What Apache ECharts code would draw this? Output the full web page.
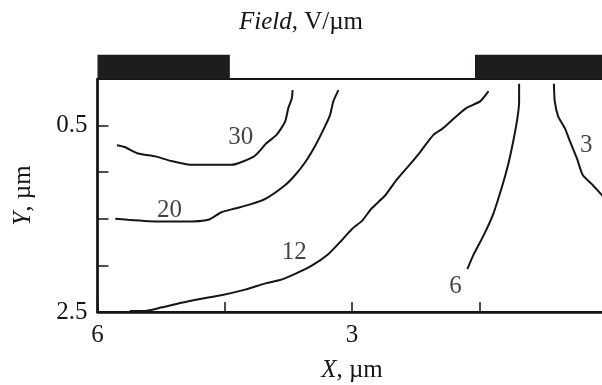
<!DOCTYPE html>
<html>
<head>
<meta charset="utf-8">
<script src="https://cdn.jsdelivr.net/npm/echarts@6/dist/echarts.min.js"></script>
<style>
  html, body { margin: 0; padding: 0; background: #fff; }
  #chart { width: 602px; height: 385px; }
</style>
</head>
<body>
<div id="chart"></div>
<script>
// contour lines, [X, Y] in um (X runs 6 -> 0 left to right, Y grows downward)
const contour30 = [[5.77, 0.71], [5.68, 0.73], [5.52, 0.80], [5.32, 0.83], [5.13, 0.88], [4.91, 0.92],
  [4.42, 0.92], [4.30, 0.89], [4.14, 0.82], [4.01, 0.69], [3.89, 0.60], [3.79, 0.46], [3.75, 0.31],
  [3.71, 0.21], [3.70, 0.12]]
const contour20 = [[5.79, 1.50], [5.64, 1.51], [5.24, 1.53], [4.97, 1.53], [4.69, 1.51], [4.54, 1.43],
  [4.38, 1.39], [4.18, 1.34], [4.01, 1.28], [3.79, 1.14], [3.67, 1.03], [3.55, 0.89], [3.43, 0.71],
  [3.33, 0.53], [3.26, 0.39], [3.22, 0.24], [3.16, 0.12]]
const contour12 = [[5.62, 2.49], [5.44, 2.49], [5.24, 2.45], [5.01, 2.40], [4.79, 2.36], [4.54, 2.32],
  [4.26, 2.26], [4.01, 2.19], [3.86, 2.16], [3.67, 2.09], [3.47, 2.00], [3.28, 1.88], [3.12, 1.73],
  [3.00, 1.61], [2.88, 1.52], [2.77, 1.39], [2.61, 1.25], [2.49, 1.10], [2.33, 0.93], [2.21, 0.80],
  [2.04, 0.60], [1.93, 0.53], [1.77, 0.40], [1.65, 0.31], [1.49, 0.24], [1.39, 0.13]]
const contour6 = [[1.03, 0.05], [1.03, 0.24], [1.05, 0.42], [1.10, 0.67], [1.16, 0.92], [1.24, 1.18],
  [1.34, 1.46], [1.45, 1.68], [1.57, 1.89], [1.64, 2.04]]
const contour3 = [[0.62, 0.05], [0.61, 0.24], [0.57, 0.40], [0.49, 0.53], [0.43, 0.67], [0.35, 0.85],
  [0.28, 1.03], [0.16, 1.14], [0.05, 1.25], [0.0, 1.29]]

// level labels: [X, Y, text]
const levelLabels = [[4.31, 0.63, '30'], [5.15, 1.41, '20'], [3.68, 1.86, '12'], [1.78, 2.23, '6'], [0.24, 0.71, '3']]

// electrodes on top of the film: [Xfrom, Xto]
const electrodes = [[6, 4.44], [1.55, 0]]
const electrodeTop = -0.26

const xLabels = [6, 3]
const yLabels = [0.5, 2.5]

const FONT = 'Times New Roman, Liberation Serif, serif'
const INK = '#151515'
const chart = echarts.init(document.getElementById('chart'))

function contourSeries(data) {
  return {
    type: 'line',
    data: data,
    smooth: 0.2,
    showSymbol: false,
    silent: true,
    lineStyle: { color: INK, width: 2 }
  }
}

const nameStyle = {
  fontFamily: FONT,
  fontSize: 25,
  color: INK,
  rich: { i: { fontFamily: FONT, fontSize: 25, fontStyle: 'italic', color: INK } }
}

chart.setOption({
  animation: false,
  title: {
    text: '{i|Field}, V/µm',
    left: 'center',
    top: 5,
    textStyle: Object.assign({ fontWeight: 'normal' }, nameStyle)
  },
  grid: {
    left: 97.5, right: -4.5, top: 79, bottom: 73,
    outerBoundsMode: 'none',
    show: true, borderColor: INK, borderWidth: 2, backgroundColor: 'transparent'
  },
  xAxis: {
    type: 'value',
    min: 0,
    max: 6,
    interval: 1.5,
    inverse: true,
    name: '{i|X}, µm',
    nameLocation: 'middle',
    nameGap: 46,
    nameTextStyle: nameStyle,
    axisLine: { onZero: false, lineStyle: { color: INK, width: 2.5 } },
    axisTick: { inside: true, length: 10, lineStyle: { color: INK, width: 1.5 } },
    axisLabel: {
      margin: 11,
      fontFamily: FONT,
      fontSize: 25,
      color: INK,
      formatter: v => (xLabels.indexOf(v) >= 0 ? String(v) : '')
    },
    splitLine: { show: false }
  },
  yAxis: {
    type: 'value',
    min: 0,
    max: 2.5,
    interval: 0.5,
    inverse: true,
    name: '{i|Y}, µm',
    nameLocation: 'middle',
    nameGap: 62,
    nameRotate: 90,
    nameTextStyle: nameStyle,
    axisLine: { onZero: false, lineStyle: { color: INK, width: 2.5 } },
    axisTick: { inside: true, length: 11, lineStyle: { color: INK, width: 1.5 } },
    axisLabel: {
      margin: 10,
      fontFamily: FONT,
      fontSize: 25,
      color: INK,
      formatter: v => (yLabels.indexOf(v) >= 0 ? String(v) : '')
    },
    splitLine: { show: false }
  },
  series: [
    {
      type: 'custom',
      clip: false,
      silent: true,
      data: electrodes,
      renderItem: function (params, api) {
        const a = api.coord([api.value(0), electrodeTop])
        const b = api.coord([api.value(1), 0])
        return {
          type: 'rect',
          shape: { x: a[0], y: a[1], width: b[0] - a[0], height: b[1] - a[1] },
          style: { fill: '#1e1c1c' }
        }
      }
    },
    contourSeries(contour30),
    contourSeries(contour20),
    contourSeries(contour12),
    contourSeries(contour6),
    contourSeries(contour3),
    {
      type: 'scatter',
      silent: true,
      symbolSize: 0,
      data: levelLabels,
      label: {
        show: true,
        position: 'inside',
        fontFamily: FONT,
        fontSize: 25,
        color: INK,
        formatter: p => p.data[2]
      }
    }
  ]
})
</script>
</body>
</html>
